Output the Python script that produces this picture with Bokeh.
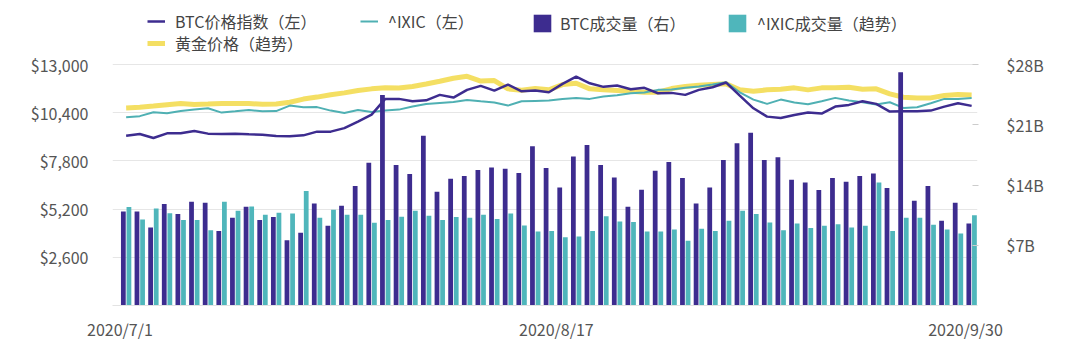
from bokeh.plotting import figure
from bokeh.models import (ColumnDataSource, Range1d, LinearAxis, FixedTicker,
                          NumeralTickFormatter, PrintfTickFormatter, Legend, LegendItem)
from bokeh.transform import dodge
from bokeh.embed import file_html
from bokeh.resources import INLINE

# ---------------- data ----------------
tick_index = [0, 32, 62]
tick_labels = ["2020/7/1", "2020/8/17", "2020/9/30"]

btc_price = [9162, 9253, 9037, 9286, 9286, 9415, 9270, 9253, 9270, 9232,
             9216, 9145, 9124, 9178, 9378, 9378, 9567, 9918, 10296, 11145,
             11145, 11015, 11069, 11361, 11215, 11632, 11848, 11594, 11918, 11556,
             11594, 11502, 11956, 12350, 11988, 11794, 11864, 11664, 11740, 11448,
             11469, 11361, 11632, 11772, 12026, 11323, 10637, 10188, 10118, 10280,
             10405, 10351, 10729, 10821, 11015, 10875, 10459, 10475, 10475, 10513,
             10729, 10907, 10767]

ixic = [10151, 10215, 10421, 10367, 10486, 10567, 10637, 10405, 10475, 10551,
        10475, 10486, 10783, 10691, 10702, 10513, 10388, 10551, 10442, 10513,
        10567, 10729, 10875, 10929, 10983, 11091, 11015, 10945, 10783, 11015,
        11037, 11053, 11145, 11199, 11145, 11269, 11340, 11448, 11486, 11632,
        11648, 11740, 11810, 11918, 12042, 11502, 11107, 10875, 11107, 10945,
        10853, 11015, 11199, 11053, 10961, 10837, 10961, 10659, 10691, 10907,
        11145, 11145, 11199]

gold_trend = [10659, 10691, 10756, 10826, 10891, 10837, 10864, 10896, 10896, 10891,
              10853, 10864, 10961, 11134, 11242, 11367, 11469, 11594, 11686, 11740,
              11729, 11810, 11945, 12096, 12259, 12361, 12107, 12134, 11686, 11610,
              11702, 11632, 11918, 11988, 11686, 11632, 11594, 11556, 11502, 11502,
              11702, 11810, 11880, 11918, 11956, 11632, 11556, 11632, 11664, 11740,
              11632, 11740, 11740, 11772, 11664, 11686, 11415, 11232, 11199, 11199,
              11323, 11378, 11361]

btc_vol_b = [10.92, 10.92, 9.06, 11.78, 10.62, 12.05, 11.93, 8.67, 10.19, 11.47,
             9.92, 10.27, 7.59, 8.44, 11.85, 9.26, 11.58, 13.88, 16.59, 24.47,
             16.32, 15.29, 19.73, 13.21, 14.73, 15.04, 15.74, 16.04, 15.89, 15.39,
             18.49, 15.97, 13.71, 17.32, 18.65, 16.32, 14.88, 11.47, 13.45, 15.66,
             16.67, 14.81, 11.85, 13.71, 16.9, 18.84, 20.08, 16.9, 17.21, 14.61,
             14.3, 13.41, 14.81, 14.38, 15.04, 15.34, 13.64, 27.1, 12.17, 13.88,
             9.84, 11.93, 9.52]

ixic_vol_trend = [11.43, 9.99, 11.27, 10.73, 9.92, 9.92, 8.75, 12.05, 11.0, 11.5,
                  10.54, 10.77, 10.69, 13.29, 10.19, 11.12, 10.54, 10.54, 9.6, 9.92,
                  10.3, 11.0, 10.42, 9.92, 10.27, 10.19, 10.54, 10.04, 10.69, 9.29,
                  8.59, 8.67, 7.94, 8.01, 8.67, 10.38, 9.76, 9.69, 8.59, 8.59,
                  8.82, 7.51, 8.91, 8.67, 9.84, 11.0, 10.62, 9.64, 8.75, 9.52,
                  8.99, 9.26, 9.45, 9.06, 9.26, 14.3, 8.67, 10.19, 10.19, 9.37,
                  8.82, 8.36, 10.5]

left_ticks = [2600, 5200, 7800, 10400, 13000]
right_ticks = [7, 14, 21, 28]

# ---------------- styles ----------------
FONT = "Noto Sans CJK SC"
C_BTC = "#3d2c8f"
C_IXIC_LINE = "#4fb0b3"
C_IXIC_BAR = "#4fb6bb"
C_GOLD = "#f3dc52"
C_TEXT = "#555555"
LABEL_SHIFT = -0.45       # date labels sit slightly left of their bar pair

H = 352
TOP_AXIS_PX = 64          # pixel row of the top tick
BOTTOM = 47               # space below the frame
FRAME_H = H - BOTTOM      # frame spans from the canvas top to the baseline
scale_up = FRAME_H / (FRAME_H - TOP_AXIS_PX)

x = list(range(len(btc_price)))
src = ColumnDataSource(dict(x=x, btc=btc_price, ixic=ixic, gold=gold_trend,
                            bvol=btc_vol_b, ivol=ixic_vol_trend))

p = figure(width=1080, height=H, output_backend="svg", toolbar_location=None,
           x_range=Range1d(-1.0, 62.43),
           y_range=Range1d(0, left_ticks[-1] * scale_up),
           min_border_left=112, min_border_right=103, min_border_top=0,
           min_border_bottom=BOTTOM)
p.outline_line_color = None
p.background_fill_color = "white"
p.border_fill_color = "white"
p.extra_y_ranges = {"vol": Range1d(0, right_ticks[-1] * scale_up)}

# lines
r_gold = p.line("x", "gold", source=src, line_color=C_GOLD, line_width=5, line_alpha=0.9)
r_ixic = p.line("x", "ixic", source=src, line_color=C_IXIC_LINE, line_width=2)
r_btc = p.line("x", "btc", source=src, line_color=C_BTC, line_width=2.5)

# bars
r_bvol = p.vbar(x=dodge("x", -0.205, range=p.x_range), top="bvol", width=0.35,
                source=src, y_range_name="vol", fill_color=C_BTC, line_color=None)
r_ivol = p.vbar(x=dodge("x", 0.205, range=p.x_range), top="ivol", width=0.35,
                source=src, y_range_name="vol", fill_color=C_IXIC_BAR, line_color=None)

# axes
p.yaxis.ticker = FixedTicker(ticks=left_ticks)
p.yaxis.formatter = NumeralTickFormatter(format="$0,0")
p.yaxis.axis_line_color = None
p.yaxis.major_tick_line_color = None
p.yaxis.minor_tick_line_color = None
p.yaxis.major_label_standoff = 18
p.yaxis.major_label_text_font = FONT
p.yaxis.major_label_text_font_size = "16px"
p.yaxis.major_label_text_color = C_TEXT

ry = LinearAxis(y_range_name="vol", ticker=FixedTicker(ticks=right_ticks),
                formatter=PrintfTickFormatter(format="$%dB"))
ry.axis_line_color = None
ry.major_tick_line_color = "#cccccc"
ry.major_tick_in = 5
ry.major_tick_out = 1
ry.minor_tick_line_color = None
ry.major_label_standoff = 28
ry.major_label_text_font = FONT
ry.major_label_text_font_size = "16px"
ry.major_label_text_color = C_TEXT
p.add_layout(ry, "right")

xt = [i + LABEL_SHIFT for i in tick_index]
p.xaxis.ticker = FixedTicker(ticks=xt)
p.xaxis.major_label_overrides = {t: l for t, l in zip(xt, tick_labels)}
p.xaxis.axis_line_color = "#e3e3e3"
p.xaxis.major_tick_line_color = None
p.xaxis.minor_tick_line_color = None
p.xaxis.major_label_standoff = 5
p.xaxis.major_label_text_font = FONT
p.xaxis.major_label_text_font_size = "16px"
p.xaxis.major_label_text_color = C_TEXT

p.xgrid.grid_line_color = None
p.ygrid.grid_line_color = "#e6e6e6"
p.ygrid.grid_line_width = 1

# legends (placed inside the tall frame, above the data area)
def add_leg(label, rend, vx, vy, gw, gh, standoff):
    leg = Legend(items=[LegendItem(label=label, renderers=[rend])],
                 location=(vx, vy), orientation="horizontal",
                 padding=0, margin=0, spacing=0,
                 border_line_color=None, background_fill_alpha=0,
                 glyph_width=gw, glyph_height=gh, label_standoff=standoff,
                 label_height=20,
                 label_text_font=FONT, label_text_font_size="16px",
                 label_text_color="#444444")
    p.add_layout(leg)

add_leg("BTC价格指数（左）", r_btc, 35, 272, 18, 20, 10)
add_leg("^IXIC（左）", r_ixic, 248, 272, 18, 20, 10)
add_leg("BTC成交量（右）", r_bvol, 419, 270, 22, 22, 7)
add_leg("^IXIC成交量（趋势）", r_ivol, 614, 270, 22, 22, 9)
add_leg("黄金价格（趋势）", r_gold, 35, 250, 18, 20, 10)

open("out.html", "w").write(file_html(p, INLINE))
